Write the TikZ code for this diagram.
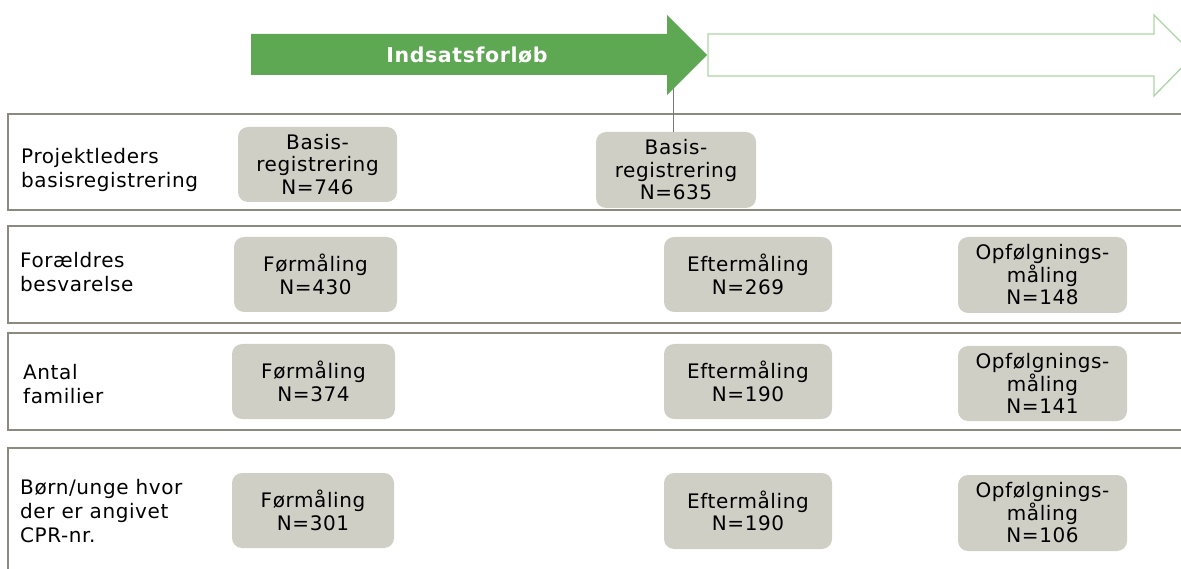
\documentclass[tikz,border=0pt]{standalone}
\usepackage{fontspec}
\setmainfont[LetterSpace=3]{DejaVu Sans}
\definecolor{arrowgreen}{RGB}{94,168,84}
\definecolor{palegreen}{RGB}{170,214,162}
\definecolor{framegrey}{RGB}{140,138,126}
\definecolor{boxfill}{RGB}{208,207,198}
\definecolor{tickgrey}{RGB}{120,120,120}
\begin{document}
\begin{tikzpicture}[x=1pt,y=-1pt,
  rowframe/.style={draw=framegrey,line width=1.6pt},
  stagebox/.style={rectangle,rounded corners=10pt,fill=boxfill,inner sep=0pt,
    align=center,font=\fontsize{20}{22.5}\selectfont,text=black},
  rowlabel/.style={anchor=west,inner sep=0pt,align=left,
    font=\fontsize{20}{24}\selectfont,text=black}]
\useasboundingbox (0,0) rectangle (1181,569);
\begin{scope}
\clip (0,0) rectangle (1181,569);

% row frames, open to the right
\draw[rowframe] (8,114) rectangle (1200,210);
\draw[rowframe] (8,226) rectangle (1200,323);
\draw[rowframe] (8,333) rectangle (1200,430);
\draw[rowframe] (8,448) rectangle (1200,600);

% tick from the intervention arrow down to the second registration
\coordinate (tick) at (673,82);

% boxes of the first row
\node[stagebox,minimum width=159pt,minimum height=75pt] (b1) at (317.5,164.5)
  {Basis-\\registrering\\N=746};
\node[stagebox,minimum width=160pt,minimum height=76pt] (b2) at (676,170)
  {Basis-\\registrering\\N=635};
\draw[tickgrey,line width=1pt] (tick) -- (tick |- b2.north);

% timeline arrows
\path[fill=arrowgreen] (251,34) -- (667,34) -- (667,15) -- (707,55) -- (667,95)
  -- (667,75) -- (251,75) -- cycle;
\node[text=white,font=\fontsize{20.5}{24}\selectfont\bfseries] (title) at (467,55)
  {Indsatsforløb};
\draw[palegreen,line width=1.3pt] (708,34) -- (1154,34) -- (1154,15) -- (1194,55)
  -- (1154,96) -- (1154,76) -- (708,76) -- cycle;

% row labels
\node[rowlabel] (l1) at (21,170) {Projektleders\\basisregistrering};
\node[rowlabel] (l2) at (20,272) {Forældres\\besvarelse};
\node[rowlabel] (l3) at (23,384) {Antal\\familier};
\node[rowlabel] (l4) at (20,511) {Børn/unge hvor\\der er angivet\\CPR-nr.};

% second row
\node[stagebox,minimum width=163pt,minimum height=75pt] (f2) at (315.5,274.5)
  {Førmåling\\N=430};
\node[stagebox,minimum width=168pt,minimum height=75pt] (e2) at (748,274.5)
  {Eftermåling\\N=269};
\node[stagebox,minimum width=169pt,minimum height=76pt] (o2) at (1042.5,275)
  {Opfølgnings-\\måling\\N=148};

% third row
\node[stagebox,minimum width=163pt,minimum height=75pt] (f3) at (313.5,381.5)
  {Førmåling\\N=374};
\node[stagebox,minimum width=168pt,minimum height=75pt] (e3) at (748,381.5)
  {Eftermåling\\N=190};
\node[stagebox,minimum width=169pt,minimum height=75pt] (o3) at (1042.5,383.5)
  {Opfølgnings-\\måling\\N=141};

% fourth row
\node[stagebox,minimum width=162pt,minimum height=75pt] (f4) at (313,510.5)
  {Førmåling\\N=301};
\node[stagebox,minimum width=168pt,minimum height=76pt] (e4) at (748,511)
  {Eftermåling\\N=190};
\node[stagebox,minimum width=169pt,minimum height=76pt] (o4) at (1042.5,513)
  {Opfølgnings-\\måling\\N=106};
\end{scope}
\end{tikzpicture}
\end{document}
